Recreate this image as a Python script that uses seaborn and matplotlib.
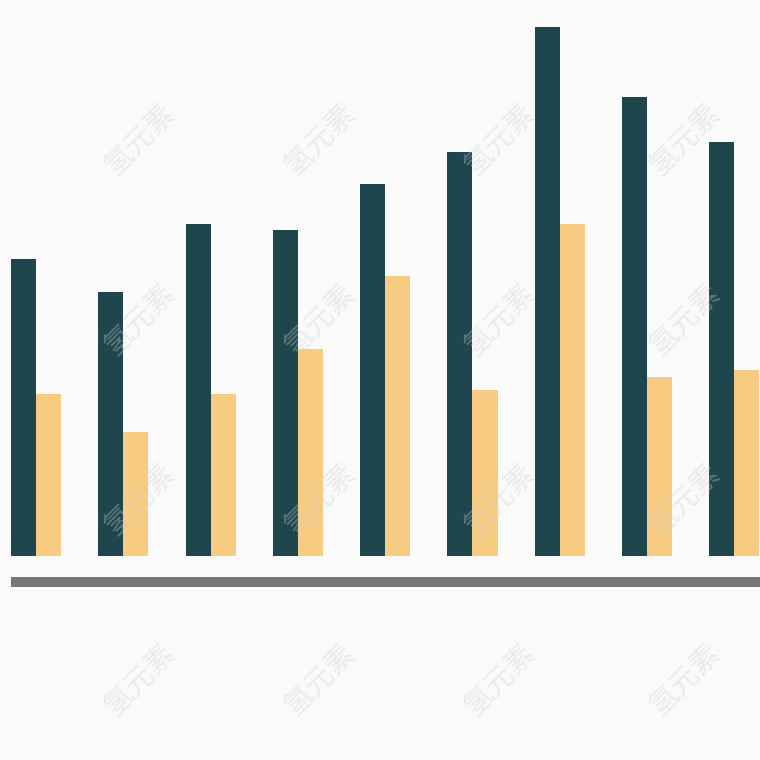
import matplotlib
matplotlib.use("Agg")
import matplotlib.pyplot as plt
import pandas as pd
import seaborn as sns

groups = ["1", "2", "3", "4", "5", "6", "7", "8", "9"]
series_a = [297, 264, 332, 326, 372, 404, 529, 459, 414]
series_b = [162, 124, 162, 207, 280, 166, 332, 179, 186]
watermark = "氢元素"

df = pd.DataFrame({
    "group": groups * 2,
    "value": series_a + series_b,
    "series": ["a"] * len(groups) + ["b"] * len(groups),
})

sns.set_theme(style="white")
plt.rcParams["font.family"] = ["Noto Sans CJK SC", "DejaVu Sans"]

fig = plt.figure(figsize=(7.6, 7.6), dpi=100, facecolor="#fafafa")
ax = fig.add_axes([0, 0, 1, 1])
ax.set_facecolor("#fafafa")

sns.barplot(data=df, x="group", y="value", hue="series",
            palette={"a": "#1f464d", "b": "#f8cb82"},
            width=0.573, saturation=1, legend=False, linewidth=0, ax=ax)

# pixel-like scale: 1 unit = 1 px, bar bottom at 556 px from top
ax.set_xlim(-36 / 87.3, (760 - 36) / 87.3)
ax.set_ylim(-204, 556)
ax.axhline(-25.5, xmin=11 / 760, xmax=1, color="#777777", lw=7.2,
           solid_capstyle="butt")

for s in ax.spines.values():
    s.set_visible(False)
ax.set_xticks([])
ax.set_yticks([])
ax.set_xlabel("")
ax.set_ylabel("")

# faint watermark grid
for wx in [140, 320, 500, 685]:
    for wy in [140, 320, 500, 680]:
        fig.text(wx / 760, 1 - wy / 760, watermark, rotation=45,
                 ha="center", va="center", fontsize=21,
                 color="#d0d0d0", alpha=0.35, zorder=10)

fig.savefig("out.png", dpi=100, facecolor=fig.get_facecolor())
